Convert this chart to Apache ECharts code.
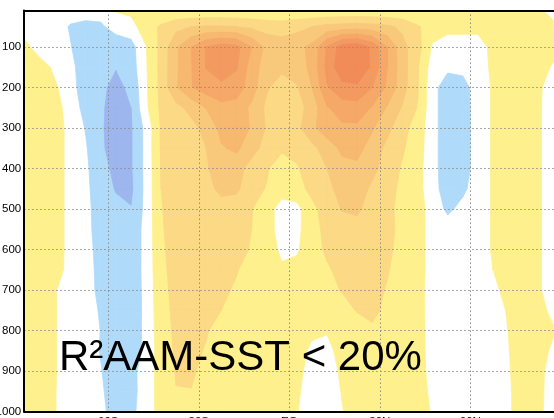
<!DOCTYPE html>
<html><head><meta charset="utf-8">
<script src="https://cdn.jsdelivr.net/npm/echarts@6/dist/echarts.min.js"></script>
<style>html,body{margin:0;padding:0;background:#fff;overflow:hidden}#c{width:554px;height:418px}</style>
</head><body><div id="c"></div>
<script>
// latitude columns (deg) and pressure rows (hPa)
const lats = [-87.5,-82.5,-77.5,-72.5,-67.5,-62.5,-57.5,-52.5,-47.5,-42.5,-37.5,-32.5,-27.5,-22.5,-17.5,-12.5,-7.5,-2.5,2.5,7.5,12.5,17.5,22.5,27.5,32.5,37.5,42.5,47.5,52.5,57.5,62.5,67.5,72.5,77.5,82.5,87.5];
const pressureLevels = [10,50,100,150,200,250,300,350,400,450,500,550,600,650,700,750,800,850,900,950,1000];
const latTicks = [-60,-30,0,30,60];
const latTickLabels = ['60S','30S','EQ','30N','60N'];
const pTicks = [100,200,300,400,500,600,700,800,900,1000];
const titleText = 'R²AAM-SST < 20%';

// field values (contour units), one row per pressure level
const p10  = [0,0,0,0,0,0,0.55,0.7,0.8,0.6,0.6,0.6,0.6,0.6,0.6,0.6,0.6,0.6,0.6,0.6,0.6,0.6,0.6,0.6,0.6,0.6,0.7,0.9,0.9,0.9,0.9,0.9,0.9,0.9,0.8,-0.1];
const p50  = [0,0,0,-0.6,-0.8,-0.7,0,0.15,1.0,1.65,2.2,2.5,2.6,2.6,2.5,2.3,2.1,2.0,2.2,2.5,2.8,2.9,3.0,2.9,2.7,2.3,1.6,1.1,0.8,0.8,0.8,1.0,1.0,1.0,1.0,0.9];
const p100 = [0.75,0,0,-0.45,-1.1,-1.2,-1.3,-0.9,0.45,1.78,3.35,4.5,5.55,6.0,5.8,4.5,3.2,3.0,3.2,3.75,5.6,7.0,7.2,6.3,4.5,2.8,1.9,0.35,0,0,0,0.8,1.0,1.0,1.0,0.9];
const p150 = [1.0,0.9,0.3,-0.2,-1.1,-1.3,-1.45,-1.0,0.4,1.8,3.35,4.45,5.55,6.2,5.6,4.0,3.0,2.7,3.0,3.74,5.8,7.2,7.4,6.3,4.5,2.95,1.6,0,-0.3,-0.2,0,0.7,1.0,1.0,1.0,0.36];
const p200 = [1.0,1.0,0.6,0,-1.2,-1.3,-1.75,-1.3,0.35,1.8,3.4,4.45,5.0,5.2,5.0,4.0,2.6,2.1,2.4,3.5,5.4,6.2,6.3,5.5,4.3,2.9,1.6,-0.2,-1.0,-0.9,0,0.6,1.0,1.0,0.75,-0.2];
const p250 = [1.0,1.0,0.9,0,-0.8,-1.35,-1.9,-1.5,0.3,1.7,2.2,2.8,3.55,4.2,4.1,3.3,2.3,2.0,2.1,2.9,4.4,5.0,5.1,4.4,3.4,2.4,1.45,-0.2,-1.0,-1.0,0,0.6,1.0,1.0,0.7,-0.2];
const p300 = [1.0,1.0,0.9,0.2,-0.55,-1.35,-2.0,-1.6,-0.2,1.6,2.0,2.2,2.8,3.8,4.0,3.4,2.4,1.8,2.2,3.3,4.0,4.3,4.3,3.6,2.8,1.8,1.1,-0.2,-1.0,-1.0,0,0.6,1.0,1.0,0.7,-0.2];
const p350 = [1.0,1.0,0.9,0.2,-0.4,-1.3,-2.0,-1.6,-0.2,1.6,2.0,2.1,2.5,3.4,3.7,2.9,2.1,1.65,1.8,2.2,3.0,3.7,3.8,3.1,2.2,1.6,1.0,-0.2,-1.0,-1.0,0,0.6,1.0,1.0,0.7,-0.2];
const p400 = [1.0,1.0,0.9,0.2,-0.3,-1.2,-1.7,-1.6,-0.2,1.55,1.9,2.1,2.4,3.0,2.9,2.1,1.6,1.0,1.4,2.0,2.5,3.2,3.3,2.8,2.0,1.4,0.9,-0.2,-1.0,-1.0,0,0.6,1.0,1.0,0.7,-0.2];
const p450 = [1.0,1.0,0.9,0.2,-0.25,-1.1,-1.55,-1.7,-0.2,1.5,1.9,2.0,2.2,2.75,2.7,1.8,1.45,0.9,1.1,1.8,2.2,2.9,3.0,2.3,1.8,1.3,0.9,-0.2,-0.9,-0.7,0,0.6,1.0,1.0,0.7,-0.2];
const p500 = [1.0,1.0,0.9,0.2,-0.2,-1.0,-1.3,-1.45,-0.2,1.45,1.9,2.0,2.1,2.1,1.9,1.55,0.9,0.1,0.2,1.2,2.0,2.55,2.65,2.1,1.7,1.25,0.9,0.1,-0.7,-0.2,0,0.6,1.0,1.0,0.7,-0.2];
const p550 = [1.0,1.0,0.9,0.2,-0.15,-1.0,-1.1,-1.1,-0.2,1.4,1.9,2.0,2.0,1.9,1.75,1.5,0.9,0.1,0.25,1.1,1.8,2.1,2.2,2.0,1.7,1.3,0.9,0.1,0,0,0,0.6,1.0,1.0,0.7,-0.2];
const p600 = [1.0,1.0,0.9,0.2,-0.1,-0.9,-1.1,-1.1,-0.2,1.35,1.85,1.95,1.95,1.85,1.7,1.45,0.9,0.35,0.4,1.0,1.7,2.0,2.0,1.9,1.65,1.25,0.9,0.1,0,0,0,0.6,1.0,1.0,0.7,-0.2];
const p650 = [1.0,1.0,0.85,0.2,-0.1,-0.8,-1.1,-1.1,-0.2,1.3,1.8,1.9,1.85,1.75,1.55,1.2,1.0,0.6,0.75,1.05,1.35,1.85,1.9,1.8,1.55,1.2,0.9,0.1,0,0,0,0.5,1.0,1.0,0.7,-0.2];
const p700 = [1.0,1.0,0.55,0,-0.1,-0.75,-1.1,-1.05,-0.25,1.25,1.75,1.85,1.8,1.65,1.4,1.1,1.0,0.9,0.95,1.05,1.25,1.55,1.75,1.7,1.45,1.1,0.85,0.1,0,0,0,0.2,0.9,1.0,0.7,-0.2];
const p750 = [1.0,1.0,0.55,0,-0.05,-0.6,-1.05,-1.0,-0.3,1.2,1.7,1.75,1.65,1.5,1.2,1.0,1.0,0.95,0.9,0.9,1.0,1.2,1.55,1.65,1.35,1.05,0.85,0.1,0,0,0,0,0.6,1.0,0.9,0.2];
const p800 = [1.0,1.0,0.55,0,0,-0.52,-1.0,-0.95,-0.3,1.15,1.65,1.7,1.55,1.25,1.05,1.0,1.0,0.95,0.8,0.6,0.55,0.8,1.1,1.4,1.2,1.0,0.85,0.15,0,0,0,0,0.5,1.0,1.0,0.6];
const p850 = [1.0,1.0,0.55,0,0,-0.55,-1.0,-0.9,-0.35,1.1,1.6,1.65,1.45,1.15,1.0,1.0,1.0,0.9,0.7,0.4,0.3,0.75,1.0,1.1,1.05,1.0,0.85,0.15,0,0,0,0,0.45,1.0,0.95,0.3];
const p900 = [1.0,1.0,0.55,0,0,-0.45,-1.0,-0.7,-0.2,1.05,1.55,1.6,1.3,1.05,1.0,1.0,1.0,0.85,0.65,0.3,0.1,0.65,0.95,1.0,1.0,1.0,0.85,0.2,0,0,0,0,0.4,1.0,0.85,0];
const p950 = [1.0,1.0,0.52,0,0,-0.35,-1.0,-0.75,-0.15,1.0,1.48,1.48,1.1,1.0,1.0,1.0,1.0,0.85,0.6,0.2,0,0.55,0.95,1.0,1.0,1.0,0.9,0.3,0,0,0,0,0.35,1.0,0.8,0];
const p1000= [1.0,1.0,0.52,0,0,-0.2,-1.0,-0.7,-0.1,0.95,1.0,1.0,1.0,1.0,1.0,1.0,1.0,0.85,0.55,0,-0.1,0.45,0.95,1.0,1.0,1.0,0.95,0.4,0,0,0,0,0.35,1.0,0.75,0];
const rows = [p10,p50,p100,p150,p200,p250,p300,p350,p400,p450,p500,p550,p600,p650,p700,p750,p800,p850,p900,p950,p1000];

// contour bands: threshold, side (-1 = at or below, 1 = at or above), fill colour
const bandThresholds = [-0.5,-1.5,0.5,1.5,2.5,3.5,4.5,5.5,6.5];
const bandSides      = [-1,-1,1,1,1,1,1,1,1];
const bandColors     = ['#B0DAF9','#9DB6EE','#FFF08E','#FBD985','#F9C97B','#F7B870','#F5A868','#F39A60','#F18C58'];

const cells = [];
for (let j = 0; j < pressureLevels.length - 1; j++)
  for (let i = 0; i < lats.length - 1; i++)
    cells.push([lats[i], pressureLevels[j], i, j]);

function clipCell(pts, vals, t, sign) {
  const out = [];
  for (let k = 0; k < 4; k++) {
    const a = k, b = (k + 1) % 4;
    const ina = sign * vals[a] >= sign * t, inb = sign * vals[b] >= sign * t;
    if (ina) out.push(pts[a]);
    if (ina !== inb) {
      const f = (t - vals[a]) / (vals[b] - vals[a]);
      out.push([pts[a][0] + f * (pts[b][0] - pts[a][0]), pts[a][1] + f * (pts[b][1] - pts[a][1])]);
    }
  }
  return out.length >= 3 ? out : null;
}

function makeRenderer(n) {
  return function (params, api) {
    const i = api.value(2), j = api.value(3);
    const idx = [[i, j], [i + 1, j], [i + 1, j + 1], [i, j + 1]];
    const pts = idx.map(c => api.coord([lats[c[0]], pressureLevels[c[1]]]));
    const vals = idx.map(c => rows[c[1]][c[0]]);
    const poly = clipCell(pts, vals, bandThresholds[n], bandSides[n]);
    if (!poly) return null;
    return { type: 'polygon', shape: { points: poly },
      style: { fill: bandColors[n], stroke: bandColors[n], lineWidth: 0.8 } };
  };
}

const series = bandThresholds.map((t, n) => ({
  type: 'custom', xAxisIndex: 0, yAxisIndex: 0, silent: true, z: 1 + n * 0.01,
  encode: { x: 0, y: 1 }, renderItem: makeRenderer(n), data: cells
}));

const chart = echarts.init(document.getElementById('c'), null, { renderer: 'canvas' });
const gridLine = { show: true, lineStyle: { color: '#8e8e8e', width: 1, type: [1.5, 2.5] } };
chart.setOption({
  animation: false,
  backgroundColor: '#fff',
  grid: { left: 24.2, top: 10.5, width: 530.2, height: 401.2, containLabel: false, outerBoundsMode: 'none' },
  xAxis: [{
    type: 'value', min: -87.86, max: 87.86, position: 'bottom', z: 5,
    axisLine: { show: true, onZero: false, lineStyle: { color: '#000', width: 2 } },
    axisTick: { show: false, customValues: latTicks },
    axisLabel: { customValues: latTicks, margin: 4, fontSize: 11.5, color: '#000', fontFamily: 'Liberation Sans',
      formatter: v => latTickLabels[latTicks.indexOf(v)] },
    splitLine: gridLine
  }, {
    type: 'value', min: -87.86, max: 87.86, position: 'top', z: 5,
    axisLine: { show: true, onZero: false, lineStyle: { color: '#000', width: 2 } },
    axisTick: { show: false }, axisLabel: { show: false }, splitLine: { show: false }
  }],
  yAxis: {
    type: 'value', inverse: true, min: 10, max: 1000, z: 5,
    axisLine: { show: true, onZero: false, lineStyle: { color: '#000', width: 2 } },
    axisTick: { show: false, customValues: pTicks },
    axisLabel: { customValues: pTicks, margin: 3, fontSize: 11.5, color: '#000', fontFamily: 'Liberation Sans',
      formatter: v => String(v) },
    splitLine: gridLine
  },
  series: series,
  graphic: [{
    type: 'text', left: 59, top: 337, z: 100,
    style: { text: titleText, fontSize: 42, fontFamily: 'Liberation Sans', fill: '#000' }
  }]
});
</script></body></html>
